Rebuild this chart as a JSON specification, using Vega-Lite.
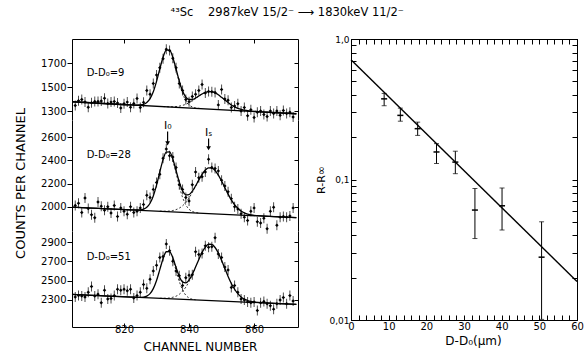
{
 "$schema": "https://vega.github.io/schema/vega-lite/v6.json",
 "padding": {"left": 14, "top": 7, "right": 2, "bottom": 2},
 "config": {
  "font": "DejaVu Sans",
  "view": {"stroke": null},
  "axis": {"grid": false, "labelFont": "DejaVu Sans", "labelFontSize": 10, "labelColor": "#000", "titleFont": "DejaVu Sans", "titleFontSize": 11, "titleFontWeight": "normal", "titleColor": "#000", "domainColor": "#000", "tickColor": "#000", "labelOverlap": false, "labelFlush": false},
  "text": {"font": "DejaVu Sans", "fontSize": 10, "color": "#000"}
 },
 "title": {"text": "⁴³Sc\u00a0\u00a0\u00a0\u00a02987keV 15/2⁻ ⟶ 1830keV 11/2⁻", "fontSize": 11.5, "fontWeight": "normal", "font": "DejaVu Sans", "color": "#000", "anchor": "middle", "dx": -12, "offset": 16},
 "datasets": {
  "pts": [
   {"p":1,"c":805,"v":1346},{"p":1,"c":806,"v":1386},{"p":1,"c":807,"v":1395},{"p":1,"c":808,"v":1375},{"p":1,"c":809,"v":1332},{"p":1,"c":810,"v":1368},{"p":1,"c":811,"v":1379},{"p":1,"c":812,"v":1379},{"p":1,"c":813,"v":1384},{"p":1,"c":814,"v":1406},{"p":1,"c":815,"v":1363},{"p":1,"c":816,"v":1374},{"p":1,"c":817,"v":1380},{"p":1,"c":818,"v":1367},{"p":1,"c":819,"v":1325},{"p":1,"c":820,"v":1360},{"p":1,"c":821,"v":1374},{"p":1,"c":822,"v":1331},{"p":1,"c":823,"v":1362},{"p":1,"c":824,"v":1405},{"p":1,"c":825,"v":1330},{"p":1,"c":826,"v":1372},{"p":1,"c":827,"v":1470},{"p":1,"c":828,"v":1440},{"p":1,"c":829,"v":1530},{"p":1,"c":830,"v":1600},{"p":1,"c":831,"v":1660},{"p":1,"c":832,"v":1735},{"p":1,"c":833,"v":1815},{"p":1,"c":834,"v":1805},{"p":1,"c":835,"v":1740},{"p":1,"c":836,"v":1660},{"p":1,"c":837,"v":1530},{"p":1,"c":838,"v":1470},{"p":1,"c":839,"v":1395},{"p":1,"c":840,"v":1378},{"p":1,"c":841,"v":1420},{"p":1,"c":842,"v":1440},{"p":1,"c":843,"v":1470},{"p":1,"c":844,"v":1520},{"p":1,"c":845,"v":1450},{"p":1,"c":846,"v":1462},{"p":1,"c":847,"v":1460},{"p":1,"c":848,"v":1455},{"p":1,"c":849,"v":1351},{"p":1,"c":850,"v":1480},{"p":1,"c":851,"v":1400},{"p":1,"c":852,"v":1390},{"p":1,"c":853,"v":1330},{"p":1,"c":854,"v":1342},{"p":1,"c":855,"v":1360},{"p":1,"c":856,"v":1300},{"p":1,"c":857,"v":1330},{"p":1,"c":858,"v":1260},{"p":1,"c":859,"v":1310},{"p":1,"c":860,"v":1245},{"p":1,"c":861,"v":1290},{"p":1,"c":862,"v":1300},{"p":1,"c":863,"v":1270},{"p":1,"c":864,"v":1255},{"p":1,"c":865,"v":1300},{"p":1,"c":866,"v":1280},{"p":1,"c":867,"v":1300},{"p":1,"c":868,"v":1265},{"p":1,"c":869,"v":1305},{"p":1,"c":870,"v":1280},{"p":1,"c":871,"v":1290},{"p":1,"c":872,"v":1250},
   {"p":2,"c":805,"v":2010},{"p":2,"c":806,"v":2030},{"p":2,"c":807,"v":1950},{"p":2,"c":808,"v":2075},{"p":2,"c":809,"v":1985},{"p":2,"c":810,"v":1930},{"p":2,"c":811,"v":1905},{"p":2,"c":812,"v":2040},{"p":2,"c":813,"v":2005},{"p":2,"c":814,"v":1970},{"p":2,"c":815,"v":2000},{"p":2,"c":816,"v":1945},{"p":2,"c":817,"v":2010},{"p":2,"c":818,"v":1915},{"p":2,"c":819,"v":1990},{"p":2,"c":820,"v":1960},{"p":2,"c":821,"v":1935},{"p":2,"c":822,"v":2000},{"p":2,"c":823,"v":1950},{"p":2,"c":824,"v":1960},{"p":2,"c":825,"v":1990},{"p":2,"c":826,"v":2020},{"p":2,"c":827,"v":2100},{"p":2,"c":828,"v":2080},{"p":2,"c":829,"v":2150},{"p":2,"c":830,"v":2210},{"p":2,"c":831,"v":2280},{"p":2,"c":832,"v":2420},{"p":2,"c":833,"v":2500},{"p":2,"c":834,"v":2440},{"p":2,"c":835,"v":2430},{"p":2,"c":836,"v":2340},{"p":2,"c":837,"v":2190},{"p":2,"c":838,"v":2150},{"p":2,"c":839,"v":2080},{"p":2,"c":840,"v":2050},{"p":2,"c":841,"v":2190},{"p":2,"c":842,"v":2300},{"p":2,"c":843,"v":2250},{"p":2,"c":844,"v":2260},{"p":2,"c":845,"v":2300},{"p":2,"c":846,"v":2410},{"p":2,"c":847,"v":2340},{"p":2,"c":848,"v":2330},{"p":2,"c":849,"v":2310},{"p":2,"c":850,"v":2230},{"p":2,"c":851,"v":2180},{"p":2,"c":852,"v":2130},{"p":2,"c":853,"v":2070},{"p":2,"c":854,"v":2000},{"p":2,"c":855,"v":1980},{"p":2,"c":856,"v":1940},{"p":2,"c":857,"v":1910},{"p":2,"c":858,"v":1880},{"p":2,"c":859,"v":1960},{"p":2,"c":860,"v":1990},{"p":2,"c":861,"v":1870},{"p":2,"c":862,"v":1860},{"p":2,"c":863,"v":1900},{"p":2,"c":864,"v":1810},{"p":2,"c":865,"v":1960},{"p":2,"c":866,"v":1995},{"p":2,"c":867,"v":1840},{"p":2,"c":868,"v":1910},{"p":2,"c":869,"v":1915},{"p":2,"c":870,"v":1910},{"p":2,"c":871,"v":1920},{"p":2,"c":872,"v":1990},
   {"p":3,"c":805,"v":2330},{"p":3,"c":806,"v":2345},{"p":3,"c":807,"v":2340},{"p":3,"c":808,"v":2330},{"p":3,"c":809,"v":2380},{"p":3,"c":810,"v":2440},{"p":3,"c":811,"v":2340},{"p":3,"c":812,"v":2360},{"p":3,"c":813,"v":2270},{"p":3,"c":814,"v":2400},{"p":3,"c":815,"v":2310},{"p":3,"c":816,"v":2315},{"p":3,"c":817,"v":2345},{"p":3,"c":818,"v":2410},{"p":3,"c":819,"v":2400},{"p":3,"c":820,"v":2410},{"p":3,"c":821,"v":2395},{"p":3,"c":822,"v":2410},{"p":3,"c":823,"v":2320},{"p":3,"c":824,"v":2345},{"p":3,"c":825,"v":2380},{"p":3,"c":826,"v":2460},{"p":3,"c":827,"v":2420},{"p":3,"c":828,"v":2515},{"p":3,"c":829,"v":2600},{"p":3,"c":830,"v":2660},{"p":3,"c":831,"v":2740},{"p":3,"c":832,"v":2750},{"p":3,"c":833,"v":2880},{"p":3,"c":834,"v":2810},{"p":3,"c":835,"v":2700},{"p":3,"c":836,"v":2600},{"p":3,"c":837,"v":2550},{"p":3,"c":838,"v":2450},{"p":3,"c":839,"v":2530},{"p":3,"c":840,"v":2555},{"p":3,"c":841,"v":2560},{"p":3,"c":842,"v":2800},{"p":3,"c":843,"v":2770},{"p":3,"c":844,"v":2780},{"p":3,"c":845,"v":2860},{"p":3,"c":846,"v":2845},{"p":3,"c":847,"v":2850},{"p":3,"c":848,"v":2945},{"p":3,"c":849,"v":2775},{"p":3,"c":850,"v":2740},{"p":3,"c":851,"v":2640},{"p":3,"c":852,"v":2610},{"p":3,"c":853,"v":2430},{"p":3,"c":854,"v":2450},{"p":3,"c":855,"v":2380},{"p":3,"c":856,"v":2310},{"p":3,"c":857,"v":2300},{"p":3,"c":858,"v":2280},{"p":3,"c":859,"v":2270},{"p":3,"c":860,"v":2280},{"p":3,"c":861,"v":2190},{"p":3,"c":862,"v":2270},{"p":3,"c":863,"v":2285},{"p":3,"c":864,"v":2260},{"p":3,"c":865,"v":2240},{"p":3,"c":866,"v":2205},{"p":3,"c":867,"v":2260},{"p":3,"c":868,"v":2300},{"p":3,"c":869,"v":2325},{"p":3,"c":870,"v":2260},{"p":3,"c":871,"v":2345},{"p":3,"c":872,"v":2290}
  ],
  "fit": [
   {"p":1,"k":"t","c":804,"v":1377},{"p":1,"k":"t","c":822,"v":1351},{"p":1,"k":"t","c":823,"v":1350},{"p":1,"k":"t","c":824,"v":1349},{"p":1,"k":"t","c":825,"v":1350},{"p":1,"k":"t","c":826,"v":1355},{"p":1,"k":"t","c":827,"v":1370},{"p":1,"k":"t","c":828,"v":1403},{"p":1,"k":"t","c":829,"v":1460},{"p":1,"k":"t","c":830,"v":1547},{"p":1,"k":"t","c":831,"v":1650},{"p":1,"k":"t","c":832,"v":1748},{"p":1,"k":"t","c":833,"v":1808},{"p":1,"k":"t","c":834,"v":1807},{"p":1,"k":"t","c":835,"v":1747},{"p":1,"k":"t","c":836,"v":1650},{"p":1,"k":"t","c":837,"v":1548},{"p":1,"k":"t","c":838,"v":1466},{"p":1,"k":"t","c":839,"v":1416},{"p":1,"k":"t","c":840,"v":1396},{"p":1,"k":"t","c":841,"v":1396},{"p":1,"k":"t","c":842,"v":1408},{"p":1,"k":"t","c":843,"v":1425},{"p":1,"k":"t","c":844,"v":1442},{"p":1,"k":"t","c":845,"v":1456},{"p":1,"k":"t","c":846,"v":1462},{"p":1,"k":"t","c":847,"v":1461},{"p":1,"k":"t","c":848,"v":1451},{"p":1,"k":"t","c":849,"v":1435},{"p":1,"k":"t","c":850,"v":1414},{"p":1,"k":"t","c":851,"v":1392},{"p":1,"k":"t","c":852,"v":1370},{"p":1,"k":"t","c":853,"v":1350},{"p":1,"k":"t","c":854,"v":1334},{"p":1,"k":"t","c":855,"v":1322},{"p":1,"k":"t","c":856,"v":1313},{"p":1,"k":"t","c":857,"v":1307},{"p":1,"k":"t","c":858,"v":1302},{"p":1,"k":"t","c":859,"v":1299},{"p":1,"k":"t","c":860,"v":1297},{"p":1,"k":"t","c":861,"v":1295},{"p":1,"k":"t","c":873,"v":1277},
   {"p":1,"k":"g","c":804,"v":1377},{"p":1,"k":"g","c":873,"v":1277},
   {"p":1,"k":"a","c":835,"v":1744},{"p":1,"k":"a","c":836,"v":1643},{"p":1,"k":"a","c":837,"v":1537},{"p":1,"k":"a","c":838,"v":1447},{"p":1,"k":"a","c":839,"v":1387},{"p":1,"k":"a","c":840,"v":1351},{"p":1,"k":"a","c":841,"v":1334},{"p":1,"k":"a","c":842,"v":1325},{"p":1,"k":"a","c":843,"v":1322},{"p":1,"k":"a","c":844,"v":1319},
   {"p":1,"k":"b","c":832,"v":1337},{"p":1,"k":"b","c":833,"v":1336},{"p":1,"k":"b","c":834,"v":1335},{"p":1,"k":"b","c":835,"v":1336},{"p":1,"k":"b","c":836,"v":1337},{"p":1,"k":"b","c":837,"v":1341},{"p":1,"k":"b","c":838,"v":1347},{"p":1,"k":"b","c":839,"v":1356},{"p":1,"k":"b","c":840,"v":1369},{"p":1,"k":"b","c":841,"v":1386},{"p":1,"k":"b","c":842,"v":1405},{"p":1,"k":"b","c":843,"v":1424},{"p":1,"k":"b","c":844,"v":1442},
   {"p":2,"k":"t","c":804,"v":1997},{"p":2,"k":"t","c":822,"v":1973},{"p":2,"k":"t","c":823,"v":1972},{"p":2,"k":"t","c":824,"v":1972},{"p":2,"k":"t","c":825,"v":1973},{"p":2,"k":"t","c":826,"v":1979},{"p":2,"k":"t","c":827,"v":1995},{"p":2,"k":"t","c":828,"v":2030},{"p":2,"k":"t","c":829,"v":2093},{"p":2,"k":"t","c":830,"v":2187},{"p":2,"k":"t","c":831,"v":2300},{"p":2,"k":"t","c":832,"v":2407},{"p":2,"k":"t","c":833,"v":2473},{"p":2,"k":"t","c":834,"v":2474},{"p":2,"k":"t","c":835,"v":2412},{"p":2,"k":"t","c":836,"v":2313},{"p":2,"k":"t","c":837,"v":2212},{"p":2,"k":"t","c":838,"v":2138},{"p":2,"k":"t","c":839,"v":2103},{"p":2,"k":"t","c":840,"v":2105},{"p":2,"k":"t","c":841,"v":2134},{"p":2,"k":"t","c":842,"v":2180},{"p":2,"k":"t","c":843,"v":2232},{"p":2,"k":"t","c":844,"v":2280},{"p":2,"k":"t","c":845,"v":2317},{"p":2,"k":"t","c":846,"v":2336},{"p":2,"k":"t","c":847,"v":2335},{"p":2,"k":"t","c":848,"v":2313},{"p":2,"k":"t","c":849,"v":2273},{"p":2,"k":"t","c":850,"v":2222},{"p":2,"k":"t","c":851,"v":2164},{"p":2,"k":"t","c":852,"v":2109},{"p":2,"k":"t","c":853,"v":2059},{"p":2,"k":"t","c":854,"v":2017},{"p":2,"k":"t","c":855,"v":1986},{"p":2,"k":"t","c":856,"v":1962},{"p":2,"k":"t","c":857,"v":1947},{"p":2,"k":"t","c":858,"v":1936},{"p":2,"k":"t","c":859,"v":1930},{"p":2,"k":"t","c":860,"v":1925},{"p":2,"k":"t","c":861,"v":1923},{"p":2,"k":"t","c":873,"v":1905},
   {"p":2,"k":"g","c":804,"v":1997},{"p":2,"k":"g","c":873,"v":1905},
   {"p":2,"k":"a","c":835,"v":2401},{"p":2,"k":"a","c":836,"v":2293},{"p":2,"k":"a","c":837,"v":2178},{"p":2,"k":"a","c":838,"v":2081},{"p":2,"k":"a","c":839,"v":2016},{"p":2,"k":"a","c":840,"v":1978},{"p":2,"k":"a","c":841,"v":1959},{"p":2,"k":"a","c":842,"v":1950},{"p":2,"k":"a","c":843,"v":1946},
   {"p":2,"k":"b","c":831,"v":1962},{"p":2,"k":"b","c":832,"v":1961},{"p":2,"k":"b","c":833,"v":1961},{"p":2,"k":"b","c":834,"v":1963},{"p":2,"k":"b","c":835,"v":1967},{"p":2,"k":"b","c":836,"v":1975},{"p":2,"k":"b","c":837,"v":1988},{"p":2,"k":"b","c":838,"v":2008},{"p":2,"k":"b","c":839,"v":2037},{"p":2,"k":"b","c":840,"v":2076},{"p":2,"k":"b","c":841,"v":2123},{"p":2,"k":"b","c":842,"v":2176},{"p":2,"k":"b","c":843,"v":2231},
   {"p":3,"k":"t","c":804,"v":2357},{"p":3,"k":"t","c":822,"v":2330},{"p":3,"k":"t","c":823,"v":2329},{"p":3,"k":"t","c":824,"v":2327},{"p":3,"k":"t","c":825,"v":2327},{"p":3,"k":"t","c":826,"v":2330},{"p":3,"k":"t","c":827,"v":2340},{"p":3,"k":"t","c":828,"v":2365},{"p":3,"k":"t","c":829,"v":2417},{"p":3,"k":"t","c":830,"v":2502},{"p":3,"k":"t","c":831,"v":2614},{"p":3,"k":"t","c":832,"v":2727},{"p":3,"k":"t","c":833,"v":2799},{"p":3,"k":"t","c":834,"v":2801},{"p":3,"k":"t","c":835,"v":2737},{"p":3,"k":"t","c":836,"v":2637},{"p":3,"k":"t","c":837,"v":2543},{"p":3,"k":"t","c":838,"v":2487},{"p":3,"k":"t","c":839,"v":2477},{"p":3,"k":"t","c":840,"v":2507},{"p":3,"k":"t","c":841,"v":2566},{"p":3,"k":"t","c":842,"v":2641},{"p":3,"k":"t","c":843,"v":2720},{"p":3,"k":"t","c":844,"v":2793},{"p":3,"k":"t","c":845,"v":2848},{"p":3,"k":"t","c":846,"v":2877},{"p":3,"k":"t","c":847,"v":2875},{"p":3,"k":"t","c":848,"v":2843},{"p":3,"k":"t","c":849,"v":2786},{"p":3,"k":"t","c":850,"v":2710},{"p":3,"k":"t","c":851,"v":2626},{"p":3,"k":"t","c":852,"v":2544},{"p":3,"k":"t","c":853,"v":2471},{"p":3,"k":"t","c":854,"v":2411},{"p":3,"k":"t","c":855,"v":2365},{"p":3,"k":"t","c":856,"v":2331},{"p":3,"k":"t","c":857,"v":2308},{"p":3,"k":"t","c":858,"v":2294},{"p":3,"k":"t","c":859,"v":2284},{"p":3,"k":"t","c":860,"v":2278},{"p":3,"k":"t","c":861,"v":2275},{"p":3,"k":"t","c":873,"v":2255},
   {"p":3,"k":"g","c":804,"v":2357},{"p":3,"k":"g","c":873,"v":2255},
   {"p":3,"k":"a","c":835,"v":2720},{"p":3,"k":"a","c":836,"v":2607},{"p":3,"k":"a","c":837,"v":2492},{"p":3,"k":"a","c":838,"v":2404},{"p":3,"k":"a","c":839,"v":2349},{"p":3,"k":"a","c":840,"v":2320},{"p":3,"k":"a","c":841,"v":2308},{"p":3,"k":"a","c":842,"v":2302},
   {"p":3,"k":"b","c":831,"v":2317},{"p":3,"k":"b","c":832,"v":2318},{"p":3,"k":"b","c":833,"v":2318},{"p":3,"k":"b","c":834,"v":2321},{"p":3,"k":"b","c":835,"v":2328},{"p":3,"k":"b","c":836,"v":2339},{"p":3,"k":"b","c":837,"v":2359},{"p":3,"k":"b","c":838,"v":2390},{"p":3,"k":"b","c":839,"v":2433},{"p":3,"k":"b","c":840,"v":2491},{"p":3,"k":"b","c":841,"v":2561},{"p":3,"k":"b","c":842,"v":2640}
  ],
  "lab": [
   {"p":1,"c":808.5,"v":1620,"t":"D-D₀=9"},
   {"p":2,"c":808.5,"v":2444,"t":"D-D₀=28"},
   {"p":3,"c":808.5,"v":2741,"t":"D-D₀=51"}
  ],
  "ilab": [
   {"c":833.5,"v":2695,"t":"I₀"},
   {"c":846,"v":2635,"t":"Iₛ"}
  ],
  "arr": [
   {"c":833.4,"a":2650,"b":2548},
   {"c":846,"a":2590,"b":2505}
  ],
  "rr": [
   {"x":8.8,"y":0.375,"lo":0.335,"hi":0.41,"xlo":8.0,"xhi":9.6},
   {"x":13.1,"y":0.286,"lo":0.26,"hi":0.322,"xlo":12.3,"xhi":13.9},
   {"x":17.7,"y":0.23,"lo":0.206,"hi":0.256,"xlo":16.9,"xhi":18.5},
   {"x":22.7,"y":0.157,"lo":0.13,"hi":0.18,"xlo":21.9,"xhi":23.5},
   {"x":27.7,"y":0.133,"lo":0.11,"hi":0.159,"xlo":26.9,"xhi":28.5},
   {"x":32.9,"y":0.0606,"lo":0.038,"hi":0.0863,"xlo":32.1,"xhi":33.7},
   {"x":40.1,"y":0.065,"lo":0.0437,"hi":0.087,"xlo":39.3,"xhi":40.9},
   {"x":50.6,"y":0.028,"lo":0.0101,"hi":0.05,"xlo":49.8,"xhi":51.4}
  ],
  "rrfit": [{"x":0,"y":0.713},{"x":60,"y":0.0188}]
 },
 "hconcat": [
  {
   "spacing": 0,
   "bounds": "flush",
   "vconcat": [
    {
     "width": 226, "height": 81,
     "resolve": {"axis": {"x": "independent", "y": "independent"}},
     "layer": [
      {"data": {"name": "fit"}, "transform": [{"filter": "datum.p==1 && (datum.k=='t' || datum.k=='g')"}],
       "mark": {"type": "line", "color": "#000", "strokeWidth": 1.3, "interpolate": "monotone"},
       "encoding": {
        "x": {"field": "c", "type": "quantitative", "scale": {"domain": [804, 873.5], "nice": false, "zero": false}, "axis": {"orient": "top", "labels": false, "values": [820, 840, 860], "tickSize": -4, "title": null}},
        "y": {"field": "v", "type": "quantitative", "scale": {"domain": [1225, 1900], "nice": false, "zero": false}, "axis": {"values": [1300, 1500, 1700], "format": "d", "title": null, "tickSize": 5, "labelPadding": 1}},
        "detail": {"field": "k"}}},
      {"data": {"name": "fit"}, "transform": [{"filter": "datum.p==1 && (datum.k=='a' || datum.k=='b')"}],
       "mark": {"type": "line", "color": "#000", "strokeWidth": 0.8, "strokeDash": [2, 2], "interpolate": "monotone"},
       "encoding": {
        "x": {"field": "c", "type": "quantitative", "axis": null},
        "y": {"field": "v", "type": "quantitative", "axis": {"orient": "right", "labels": false, "values": [1300, 1500, 1700], "tickSize": -4, "title": null}},
        "detail": {"field": "k"}}},
      {"data": {"name": "pts"}, "transform": [{"filter": "datum.p==1"}],
       "mark": {"type": "tick", "orient": "vertical", "size": 10, "thickness": 1, "color": "#000"},
       "encoding": {"x": {"field": "c", "type": "quantitative", "axis": null}, "y": {"field": "v", "type": "quantitative", "axis": null}}},
      {"data": {"name": "pts"}, "transform": [{"filter": "datum.p==1"}],
       "mark": {"type": "point", "shape": "diamond", "filled": true, "size": 12, "color": "#000", "opacity": 1},
       "encoding": {"x": {"field": "c", "type": "quantitative", "axis": null}, "y": {"field": "v", "type": "quantitative", "axis": null}}},
      {"data": {"name": "lab"}, "transform": [{"filter": "datum.p==1"}],
       "mark": {"type": "text", "align": "left", "baseline": "middle", "fontSize": 10},
       "encoding": {"x": {"field": "c", "type": "quantitative", "axis": null}, "y": {"field": "v", "type": "quantitative", "axis": null}, "text": {"field": "t"}}}
     ]
    },
    {
     "width": 226, "height": 111,
     "resolve": {"axis": {"x": "independent", "y": "independent"}},
     "layer": [
      {"data": {"name": "fit"}, "transform": [{"filter": "datum.p==2 && (datum.k=='t' || datum.k=='g')"}],
       "mark": {"type": "line", "color": "#000", "strokeWidth": 1.3, "interpolate": "monotone"},
       "encoding": {
        "x": {"field": "c", "type": "quantitative", "scale": {"domain": [804, 873.5], "nice": false, "zero": false}, "axis": null},
        "y": {"field": "v", "type": "quantitative", "scale": {"domain": [1790, 2750], "nice": false, "zero": false}, "axis": {"values": [2000, 2200, 2400, 2600], "format": "d", "title": "COUNTS PER CHANNEL", "titleFontSize": 13, "titlePadding": 13, "titleY": 63, "tickSize": 5, "labelPadding": 1}},
        "detail": {"field": "k"}}},
      {"data": {"name": "fit"}, "transform": [{"filter": "datum.p==2 && (datum.k=='a' || datum.k=='b')"}],
       "mark": {"type": "line", "color": "#000", "strokeWidth": 0.8, "strokeDash": [2, 2], "interpolate": "monotone"},
       "encoding": {
        "x": {"field": "c", "type": "quantitative", "axis": null},
        "y": {"field": "v", "type": "quantitative", "axis": {"orient": "right", "labels": false, "values": [2000, 2200, 2400, 2600], "tickSize": -4, "title": null}},
        "detail": {"field": "k"}}},
      {"data": {"name": "pts"}, "transform": [{"filter": "datum.p==2"}],
       "mark": {"type": "tick", "orient": "vertical", "size": 10, "thickness": 1, "color": "#000"},
       "encoding": {"x": {"field": "c", "type": "quantitative", "axis": null}, "y": {"field": "v", "type": "quantitative", "axis": null}}},
      {"data": {"name": "pts"}, "transform": [{"filter": "datum.p==2"}],
       "mark": {"type": "point", "shape": "diamond", "filled": true, "size": 12, "color": "#000", "opacity": 1},
       "encoding": {"x": {"field": "c", "type": "quantitative", "axis": null}, "y": {"field": "v", "type": "quantitative", "axis": null}}},
      {"data": {"name": "lab"}, "transform": [{"filter": "datum.p==2"}],
       "mark": {"type": "text", "align": "left", "baseline": "middle", "fontSize": 10},
       "encoding": {"x": {"field": "c", "type": "quantitative", "axis": null}, "y": {"field": "v", "type": "quantitative", "axis": null}, "text": {"field": "t"}}},
      {"data": {"name": "ilab"},
       "mark": {"type": "text", "align": "center", "baseline": "middle", "fontSize": 11},
       "encoding": {"x": {"field": "c", "type": "quantitative", "axis": null}, "y": {"field": "v", "type": "quantitative", "axis": null}, "text": {"field": "t"}}},
      {"data": {"name": "arr"},
       "mark": {"type": "rule", "color": "#000", "strokeWidth": 1.2},
       "encoding": {"x": {"field": "c", "type": "quantitative", "axis": null}, "y": {"field": "a", "type": "quantitative", "axis": null}, "y2": {"field": "b"}}},
      {"data": {"name": "arr"},
       "mark": {"type": "point", "shape": "triangle-down", "filled": true, "size": 22, "color": "#000", "opacity": 1},
       "encoding": {"x": {"field": "c", "type": "quantitative", "axis": null}, "y": {"field": "b", "type": "quantitative", "axis": null}}}
     ]
    },
    {
     "width": 226, "height": 96,
     "resolve": {"axis": {"x": "independent", "y": "independent"}},
     "layer": [
      {"data": {"name": "fit"}, "transform": [{"filter": "datum.p==3 && (datum.k=='t' || datum.k=='g')"}],
       "mark": {"type": "line", "color": "#000", "strokeWidth": 1.3, "interpolate": "monotone"},
       "encoding": {
        "x": {"field": "c", "type": "quantitative", "scale": {"domain": [804, 873.5], "nice": false, "zero": false}, "axis": {"values": [820, 840, 860], "tickSize": -4, "labelPadding": 1, "title": "CHANNEL NUMBER", "titleFontSize": 12, "titlePadding": 7, "titleX": 128}},
        "y": {"field": "v", "type": "quantitative", "scale": {"domain": [2020, 3014], "nice": false, "zero": false}, "axis": {"values": [2300, 2500, 2700, 2900], "format": "d", "title": null, "tickSize": 5, "labelPadding": 1}},
        "detail": {"field": "k"}}},
      {"data": {"name": "fit"}, "transform": [{"filter": "datum.p==3 && (datum.k=='a' || datum.k=='b')"}],
       "mark": {"type": "line", "color": "#000", "strokeWidth": 0.8, "strokeDash": [2, 2], "interpolate": "monotone"},
       "encoding": {
        "x": {"field": "c", "type": "quantitative", "axis": null},
        "y": {"field": "v", "type": "quantitative", "axis": {"orient": "right", "labels": false, "values": [2300, 2500, 2700, 2900], "tickSize": -4, "title": null}},
        "detail": {"field": "k"}}},
      {"data": {"name": "pts"}, "transform": [{"filter": "datum.p==3"}],
       "mark": {"type": "tick", "orient": "vertical", "size": 10, "thickness": 1, "color": "#000"},
       "encoding": {"x": {"field": "c", "type": "quantitative", "axis": null}, "y": {"field": "v", "type": "quantitative", "axis": null}}},
      {"data": {"name": "pts"}, "transform": [{"filter": "datum.p==3"}],
       "mark": {"type": "point", "shape": "diamond", "filled": true, "size": 12, "color": "#000", "opacity": 1},
       "encoding": {"x": {"field": "c", "type": "quantitative", "axis": null}, "y": {"field": "v", "type": "quantitative", "axis": null}}},
      {"data": {"name": "lab"}, "transform": [{"filter": "datum.p==3"}],
       "mark": {"type": "text", "align": "left", "baseline": "middle", "fontSize": 10},
       "encoding": {"x": {"field": "c", "type": "quantitative", "axis": null}, "y": {"field": "v", "type": "quantitative", "axis": null}, "text": {"field": "t"}}}
     ]
    }
   ]
  },
  {
   "width": 226, "height": 281,
   "view": {"stroke": "#000", "strokeWidth": 1},
   "resolve": {"axis": {"x": "independent", "y": "independent"}},
   "layer": [
    {"data": {"name": "rrfit"},
     "mark": {"type": "line", "color": "#000", "strokeWidth": 1.4},
     "encoding": {
      "x": {"field": "x", "type": "quantitative", "scale": {"domain": [0, 60], "nice": false, "zero": false}, "axis": {"values": [0,2,4,6,8,10,12,14,16,18,20,22,24,26,28,30,32,34,36,38,40,42,44,46,48,50,52,54,56,58,60], "labelExpr": "datum.value % 10 == 0 ? datum.label : ''", "tickSize": -5, "labelPadding": 6, "title": "D-D₀(μm)", "titleFontSize": 12, "titlePadding": 4, "titleX": 122}},
      "y": {"field": "y", "type": "quantitative", "scale": {"type": "log", "domain": [0.01, 1], "nice": false}, "axis": {"values": [0.01,0.02,0.03,0.04,0.05,0.06,0.07,0.08,0.09,0.1,0.2,0.3,0.4,0.5,0.6,0.7,0.8,0.9,1], "labelExpr": "datum.value == 1 ? '1,0' : datum.value == 0.1 ? '0,1' : datum.value == 0.01 ? '0,01' : ''", "labelFontSize": 9, "tickSize": -5, "labelPadding": 7, "title": "R-R∞", "titlePadding": 2}}}},
    {"data": {"name": "rr"},
     "mark": {"type": "errorbar", "ticks": true, "color": "#000"},
     "encoding": {"x": {"field": "x", "type": "quantitative", "axis": null}, "y": {"field": "lo", "type": "quantitative", "axis": null}, "y2": {"field": "hi"}}},
    {"data": {"name": "rr"},
     "mark": {"type": "rule", "color": "#000", "strokeWidth": 1.5},
     "encoding": {
      "x": {"field": "xlo", "type": "quantitative", "axis": {"orient": "top", "labels": false, "values": [0,2,4,6,8,10,12,14,16,18,20,22,24,26,28,30,32,34,36,38,40,42,44,46,48,50,52,54,56,58,60], "tickSize": -5, "title": null}},
      "x2": {"field": "xhi"},
      "y": {"field": "y", "type": "quantitative", "axis": {"orient": "right", "labels": false, "values": [0.01,0.02,0.03,0.04,0.05,0.06,0.07,0.08,0.09,0.1,0.2,0.3,0.4,0.5,0.6,0.7,0.8,0.9,1], "tickSize": -5, "title": null}}}}
   ]
  }
 ],
 "spacing": 16
}
